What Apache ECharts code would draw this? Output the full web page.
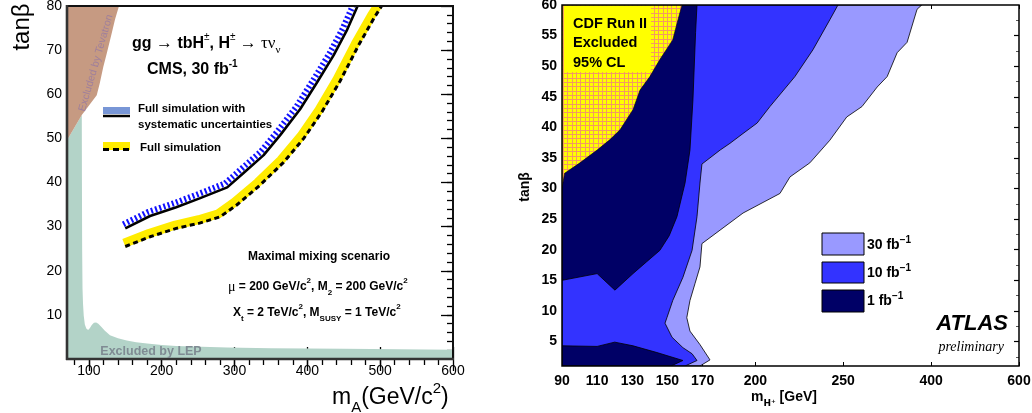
<!DOCTYPE html>
<html><head><meta charset="utf-8">
<script src="https://cdn.jsdelivr.net/npm/echarts@6.0.0/dist/echarts.min.js"></script>
<style>html,body{margin:0;padding:0;background:#fff}#c{width:1032px;height:413px}</style>
</head><body><div id="c"></div>
<script>
// ================= LEFT PANEL (CMS) DATA =================
const cmsXTicks = [100, 200, 300, 400, 500, 600];
const cmsYTicks = [10, 20, 30, 40, 50, 60, 70, 80];
// LEP excluded region (m_A, tanBeta)
const lepRegion = [[70,0],[70,49.6],[90.3,55.3],[90.5,40],[90.8,25],[91.3,16],[92,12.5],[93,9.8],[94.5,7.8],[96.5,6.9],[99,6.6],[101.5,7.0],[104,7.7],[107,8.2],[110,8.3],[113,8.0],[117,7.3],[122,6.4],[129,5.4],[140,4.7],[152,4.2],[165,3.8],[180,3.5],[200,3.2],[220,2.95],[255,2.75],[290,2.6],[350,2.45],[450,2.3],[600,2.1],[600,0]];
// Tevatron excluded region
const tevatronRegion = [[70,49.6],[90.3,55.3],[110.8,59.8],[115,62.5],[119.8,66.2],[125,69.5],[131.4,73.8],[136,77],[141.4,80],[70,80]];
// Full simulation with systematic uncertainties (solid + hatch)
const cmsSyst = [[150,29.6],[184,32.4],[220,34.4],[252,36.4],[290,38.9],[312,42.1],[340,46.2],[363,50.8],[390,56.6],[413,62.6],[436,68.8],[454,74.4],[469,80]];
// Full simulation (dashed + yellow band)
const cmsNominal = [[150,25.5],[184,27.7],[220,29.6],[252,30.8],[280,32.2],[303,34.9],[335,39.4],[367,44.5],[395,50],[420,56],[445,63],[470,71],[492,77.4],[502,80]];

// ================= RIGHT PANEL (ATLAS) DATA =================
const atlasTickGeV = [90, 110, 130, 150, 170, 200, 250, 400, 600];
const atlasYTicks = [5, 10, 15, 20, 25, 30, 35, 40, 45, 50, 55, 60];
// contour boundaries (m_H+ in GeV, tanBeta)
const atlas30 = [[90,60],[384,60],[376,59.3],[359,53.9],[342,52.2],[325,48.3],[308,46.6],[282,43.4],[256,41.7],[242.4,37.9],[231,34.2],[219.7,31.9],[214,29.2],[193,26],[169.6,21],[168.5,17.2],[165.7,14.5],[162.8,11.7],[161,8.9],[162.8,6.7],[168.5,4.5],[174.2,2.0],[168.5,1],[90,1]];
const atlas10 = [[90,60],[247,60],[242.4,57.6],[232.8,52.7],[222.5,48.3],[208.3,43.4],[201,40.7],[193,39],[185.6,37.4],[180,36.3],[169.6,34],[168.5,30.9],[166.8,25.4],[164,19.9],[158.8,15.5],[153,11.7],[149.7,8.9],[148.6,8.0],[152.6,5.7],[158.8,4.0],[164,3.0],[166.8,1.9],[160,1],[90,1]];
const atlas1 = [[90,60],[166.8,60],[166,55.5],[164.5,44.5],[162.8,36.3],[160,30.9],[155.4,25.4],[151,22.3],[145.7,19.9],[138,18.0],[130.4,16.1],[120.1,13.4],[110,16.1],[90,15]];
const atlas1Low = [[90,1],[90,4.3],[110,4.2],[120,4.9],[130.4,4.3],[144,3.2],[158.8,1.9],[152,1]];
const cdfRegion = [[90,30.1],[91.5,32.5],[100.2,34.2],[110,36.3],[117.3,38],[123,39.6],[130.4,42.9],[134.4,46.1],[140,48.3],[145.7,51.1],[153,54.3],[156,57.6],[158.3,60],[90,60]];

// piecewise mass axis used by the ATLAS plot (linear to 250, compressed beyond)
function mAxis(m){ return m <= 250 ? m : (m <= 400 ? 250 + (m - 250) / 3 : 300 + (m - 400) / 4); }
const atlasTickPos = atlasTickGeV.map(mAxis);

const FONT = 'Liberation Sans';
function range(a, b, s){ const r=[]; for(let v=a; v<=b+1e-9; v+=s) r.push(+v.toFixed(3)); return r; }

function polygonSeries(pts, xi, yi, style){
  return {type:'custom', coordinateSystem:'cartesian2d', xAxisIndex:xi, yAxisIndex:yi, silent:true, clip:true,
    data: pts,
    renderItem:(p, api) => p.dataIndex !== 0 ? null : ({type:'polygon', shape:{points: pts.map(q => api.coord(q))}, style})};
}
function offsetLine(pts, xi, yi, off, style){
  return {type:'custom', coordinateSystem:'cartesian2d', xAxisIndex:xi, yAxisIndex:yi, silent:true, clip:true,
    data: pts,
    renderItem:(p, api) => {
      if (p.dataIndex !== 0) return null;
      const P = pts.map(q => api.coord(q));
      const out = P.map((pt, i) => {
        const a = P[Math.max(0, i-1)], b = P[Math.min(P.length-1, i+1)];
        const dx = b[0]-a[0], dy = b[1]-a[1], L = Math.hypot(dx, dy) || 1;
        return [pt[0] + dy/L*off, pt[1] - dx/L*off];
      });
      return {type:'polyline', shape:{points: out}, style: Object.assign({fill:null}, style)};
    }};
}

// CDF hatch pattern (yellow with thin orange-red grid)
const pc = document.createElement('canvas'); pc.width = 13; pc.height = 13;
const g2 = pc.getContext('2d');
g2.fillStyle = '#ffff00'; g2.fillRect(0,0,13,13);
g2.fillStyle = '#f49a62';
[0,4,8].forEach(v => { g2.fillRect(0,v,13,1); g2.fillRect(v,0,1,13); });

const chart = echarts.init(document.getElementById('c'), null, {renderer:'canvas', width:1032, height:413});

const G0 = {left:67, top:6, width:386, height:353, containLabel:false, outerBoundsMode:'none'};
const G1 = {left:562, top:5, width:457, height:361, containLabel:false, outerBoundsMode:'none'};
const noSplit = {show:false};

function txt(x, y, text, rich, extra){
  return Object.assign({type:'text', x, y, z:100, silent:true,
    style:{text, rich, align:'left', verticalAlign:'middle', fill:'#000'}}, extra || {});
}
const b12 = {fontFamily:FONT, fontWeight:'bold', fontSize:12, lineHeight:20, fill:'#000'};
const p8 = {fontFamily:FONT, fontWeight:'bold', fontSize:8, lineHeight:8, verticalAlign:'top', fill:'#000'};
const u8 = {fontFamily:FONT, fontWeight:'bold', fontSize:8, lineHeight:8, verticalAlign:'bottom', fill:'#000'};
const fbRich = {b:{fontFamily:FONT, fontWeight:'bold', fontSize:14, lineHeight:20, fill:'#000'}, p:{fontFamily:FONT, fontWeight:'bold', fontSize:10, lineHeight:10, verticalAlign:'top', fill:'#000'}};

const option = {
  animation:false,
  backgroundColor:'#fff',
  grid:[G0, G1, Object.assign({}, G0), Object.assign({}, G1)],
  xAxis:[
    {gridIndex:0, type:'value', min:70, max:600, position:'bottom', splitLine:noSplit, axisLine:{show:false},
     axisTick:{show:true, inside:true, length:12, customValues:cmsXTicks, lineStyle:{color:'#000', width:1.3}},
     axisLabel:{customValues:cmsXTicks, fontSize:14, fontFamily:FONT, color:'#000', margin:5}},
    {gridIndex:0, type:'value', min:70, max:600, position:'top', splitLine:noSplit, axisLine:{show:false},
     axisTick:{show:true, inside:true, length:12, customValues:cmsXTicks, lineStyle:{color:'#000', width:1.3}},
     axisLabel:{show:false}},
    {gridIndex:2, type:'value', min:70, max:600, position:'top', splitLine:noSplit, axisLine:{show:false},
     axisTick:{show:true, inside:true, length:6, customValues:range(80,580,20), lineStyle:{color:'#000', width:1.3}},
     axisLabel:{show:false}},
    {gridIndex:1, type:'value', min:90, max:350, position:'bottom', splitLine:noSplit, axisLine:{show:false},
     axisTick:{show:true, inside:true, length:4, customValues:atlasTickPos, lineStyle:{color:'#000', width:1}},
     axisLabel:{customValues:atlasTickPos, fontSize:14, fontWeight:'bold', fontFamily:FONT, color:'#000', margin:8,
       formatter:v => { const i = atlasTickPos.findIndex(p => Math.abs(p - v) < 1e-6); return i >= 0 ? String(atlasTickGeV[i]) : ''; }}},
    {gridIndex:1, type:'value', min:90, max:350, position:'top', splitLine:noSplit, axisLine:{show:false},
     axisTick:{show:true, inside:true, length:4, customValues:atlasTickPos, lineStyle:{color:'#000', width:1}},
     axisLabel:{show:false}},
    {gridIndex:3, type:'value', min:90, max:350, show:false}
  ],
  yAxis:[
    {gridIndex:0, type:'value', min:0, max:80, position:'left', splitLine:noSplit, axisLine:{show:false},
     axisTick:{show:false},
     axisLabel:{customValues:cmsYTicks, fontSize:14, fontFamily:FONT, color:'#000', margin:5}},
    {gridIndex:0, type:'value', min:0, max:80, position:'right', splitLine:noSplit, axisLine:{show:false},
     axisTick:{show:true, inside:true, length:12, customValues:cmsYTicks, lineStyle:{color:'#000', width:1.3}},
     axisLabel:{show:false}},
    {gridIndex:2, type:'value', min:0, max:80, position:'right', splitLine:noSplit, axisLine:{show:false},
     axisTick:{show:true, inside:true, length:6, customValues:range(2,78,2), lineStyle:{color:'#000', width:1.3}},
     axisLabel:{show:false}},
    {gridIndex:1, type:'value', min:1, max:60, position:'left', splitLine:noSplit, axisLine:{show:false},
     axisTick:{show:true, inside:true, length:3, customValues:range(2.5,57.5,2.5), lineStyle:{color:'#000', width:1}},
     axisLabel:{customValues:atlasYTicks, fontSize:14, fontWeight:'bold', fontFamily:FONT, color:'#000', margin:5}},
    {gridIndex:1, type:'value', min:1, max:60, position:'right', splitLine:noSplit, axisLine:{show:false},
     axisTick:{show:true, inside:true, length:5, customValues:range(5,55,5), lineStyle:{color:'#000', width:1.2}},
     axisLabel:{show:false}},
    {gridIndex:3, type:'value', min:1, max:60, position:'right', splitLine:noSplit, axisLine:{show:false},
     axisTick:{show:true, inside:true, length:3, customValues:range(2.5,57.5,5), lineStyle:{color:'#555', width:1}},
     axisLabel:{show:false}}
  ],
  series:[
    polygonSeries(lepRegion, 0, 0, {fill:'#b3d3c8'}),
    polygonSeries(tevatronRegion, 0, 0, {fill:'#c69a82'}),
    offsetLine(cmsNominal, 0, 0, 3.5, {stroke:'#ffec00', lineWidth:9, lineJoin:'round'}),
    {type:'line', xAxisIndex:0, yAxisIndex:0, data:cmsNominal, showSymbol:false, symbol:'none', silent:true,
     lineStyle:{color:'#000', width:3, type:[5,3.5]}},
    offsetLine(cmsSyst, 0, 0, 4.5, {stroke:'#1010ff', lineWidth:6, lineDash:[2,2.4]}),
    {type:'line', xAxisIndex:0, yAxisIndex:0, data:cmsSyst, showSymbol:false, symbol:'none', silent:true,
     lineStyle:{color:'#000', width:2.6}},
    polygonSeries(atlas30.map(p => [mAxis(p[0]), p[1]]), 3, 3, {fill:'#9999ff', stroke:'#000', lineWidth:0.8}),
    polygonSeries(atlas10.map(p => [mAxis(p[0]), p[1]]), 3, 3, {fill:'#3333ff', stroke:'#000', lineWidth:0.8}),
    polygonSeries(atlas1.map(p => [mAxis(p[0]), p[1]]), 3, 3, {fill:'#000066', stroke:'#000', lineWidth:0.8}),
    polygonSeries(atlas1Low.map(p => [mAxis(p[0]), p[1]]), 3, 3, {fill:'#000066', stroke:'#000', lineWidth:0.8}),
    polygonSeries(cdfRegion.map(p => [mAxis(p[0]), p[1]]), 3, 3, {fill:{image:pc, repeat:'repeat'}, stroke:'#000', lineWidth:0.6})
  ],
  graphic:[
    // frames
    {type:'rect', z:100, silent:true, shape:{x:67, y:6, width:386, height:353}, style:{fill:null, stroke:'#111', lineWidth:2}},
    {type:'line', z:100, silent:true, shape:{x1:67, y1:5, x2:67, y2:360}, style:{stroke:'#333', lineWidth:2.6}},
    {type:'line', z:100, silent:true, shape:{x1:66, y1:359, x2:454, y2:359}, style:{stroke:'#333', lineWidth:2.6}},
    {type:'rect', z:100, silent:true, shape:{x:562, y:5, width:457, height:361}, style:{fill:null, stroke:'#000', lineWidth:1.5}},
    // LEFT texts
    txt(22, 27, 'tanβ', null, {rotation:Math.PI/2, style:{text:'tanβ', align:'center', verticalAlign:'middle', fill:'#000', fontFamily:FONT, fontSize:24}}),
    txt(332, 398, '{n|m}{u|A}{n|(GeV/c}{p|2}{n|)}', {
      n:{fontFamily:FONT, fontSize:23, lineHeight:34, fill:'#000'},
      u:{fontFamily:FONT, fontSize:15, lineHeight:15, verticalAlign:'bottom', fill:'#000'},
      p:{fontFamily:FONT, fontSize:15, lineHeight:17, verticalAlign:'top', fill:'#000'}}),
    txt(96, 63, 'Excluded by Tevatron', null, {rotation:1.29, style:{text:'Excluded by Tevatron', align:'center', verticalAlign:'middle', fill:'#9f7f9c', fontFamily:FONT, fontSize:10.5}}),
    txt(151, 352, 'Excluded by LEP', null, {style:{text:'Excluded by LEP', align:'center', verticalAlign:'middle', fill:'#7f8b93', fontFamily:FONT, fontWeight:'bold', fontSize:12.5}}),
    txt(132, 44, '{b|gg }{s|→}{b| tbH}{p|±}{b|, H}{p|±}{s| → τν}{u|ν}', {
      b:{fontFamily:FONT, fontWeight:'bold', fontSize:16, lineHeight:24, fill:'#000'},
      s:{fontFamily:'Liberation Serif', fontSize:17, lineHeight:24, fill:'#000'},
      p:{fontFamily:FONT, fontSize:10, lineHeight:12, verticalAlign:'top', fill:'#000'},
      u:{fontFamily:'Liberation Serif', fontSize:11, lineHeight:11, verticalAlign:'bottom', fill:'#000'}}),
    txt(147, 70, '{b|CMS, 30 fb}{p|-1}', {
      b:{fontFamily:FONT, fontWeight:'bold', fontSize:16, lineHeight:22, fill:'#000'},
      p:{fontFamily:FONT, fontWeight:'bold', fontSize:10, lineHeight:10, verticalAlign:'top', fill:'#000'}}),
    // left legend
    {type:'rect', z:100, silent:true, shape:{x:103, y:107, width:27, height:7}, style:{fill:'#7896d6'}},
    {type:'line', z:100, silent:true, shape:{x1:103, y1:116, x2:130, y2:116}, style:{stroke:'#000', lineWidth:2.5}},
    {type:'rect', z:100, silent:true, shape:{x:103, y:142, width:27, height:8}, style:{fill:'#ffec00'}},
    {type:'line', z:100, silent:true, shape:{x1:103, y1:149.5, x2:130, y2:149.5}, style:{stroke:'#000', lineWidth:3, lineDash:[6,4]}},
    txt(138, 109, 'Full simulation with', null, {style:{text:'Full simulation with', fontFamily:FONT, fontWeight:'bold', fontSize:11.5, fill:'#000', verticalAlign:'middle'}}),
    txt(138, 125, 'systematic uncertainties', null, {style:{text:'systematic uncertainties', fontFamily:FONT, fontWeight:'bold', fontSize:11.5, fill:'#000', verticalAlign:'middle'}}),
    txt(140, 148, 'Full simulation', null, {style:{text:'Full simulation', fontFamily:FONT, fontWeight:'bold', fontSize:11.5, fill:'#000', verticalAlign:'middle'}}),
    txt(248, 257, 'Maximal mixing scenario', null, {style:{text:'Maximal mixing scenario', fontFamily:FONT, fontWeight:'bold', fontSize:12, fill:'#000', verticalAlign:'middle'}}),
    txt(228, 287, '{g|μ}{b| = 200 GeV/c}{p|2}{b|, M}{u|2}{b| = 200 GeV/c}{p|2}', {
      b:b12, p:p8, u:u8, g:{fontFamily:'Liberation Serif', fontSize:14, lineHeight:20, fill:'#000'}}),
    txt(233, 313, '{b|X}{u|t}{b| = 2 TeV/c}{p|2}{b|, M}{u|SUSY}{b| = 1 TeV/c}{p|2}', {b:b12, p:p8, u:u8}),
    // RIGHT texts
    {type:'rect', z:100, silent:true, shape:{x:564, y:6, width:87, height:66}, style:{fill:'#ffff00'}},
    txt(573, 43, 'CDF Run II\nExcluded\n95% CL', null, {style:{text:'CDF Run II\nExcluded\n95% CL', fontFamily:FONT, fontWeight:'bold', fontSize:14.5, lineHeight:19.5, fill:'#000', verticalAlign:'middle'}}),
    {type:'rect', z:100, silent:true, shape:{x:822, y:233, width:42, height:22}, style:{fill:'#9999ff', stroke:'#000', lineWidth:1}},
    {type:'rect', z:100, silent:true, shape:{x:822, y:262, width:42, height:21}, style:{fill:'#3333ff', stroke:'#000', lineWidth:1}},
    {type:'rect', z:100, silent:true, shape:{x:822, y:290, width:42, height:22}, style:{fill:'#000066', stroke:'#000', lineWidth:1}},
    txt(867, 245, '{b|30 fb}{p|−1}', fbRich),
    txt(867, 273, '{b|10 fb}{p|−1}', fbRich),
    txt(867, 301, '{b|1 fb}{p|−1}', fbRich),
    txt(1008, 324, 'ATLAS', null, {style:{text:'ATLAS', align:'right', verticalAlign:'middle', fontFamily:FONT, fontWeight:'bold', fontStyle:'italic', fontSize:22, fill:'#000'}}),
    txt(1004, 347, 'preliminary', null, {style:{text:'preliminary', align:'right', verticalAlign:'middle', fontFamily:'Liberation Serif', fontStyle:'italic', fontSize:14, fill:'#000'}}),
    txt(525, 187, 'tanβ', null, {rotation:Math.PI/2, style:{text:'tanβ', align:'center', verticalAlign:'middle', fontFamily:FONT, fontWeight:'bold', fontSize:14, fill:'#000'}}),
    txt(751, 397, '{b|m}{u|H⁺}{b| [GeV]}', {
      b:{fontFamily:FONT, fontWeight:'bold', fontSize:14, lineHeight:22, fill:'#000'},
      u:{fontFamily:'DejaVu Sans', fontWeight:'bold', fontSize:9, lineHeight:10, verticalAlign:'bottom', fill:'#000'}})
  ]
};
chart.setOption(option);
</script></body></html>
